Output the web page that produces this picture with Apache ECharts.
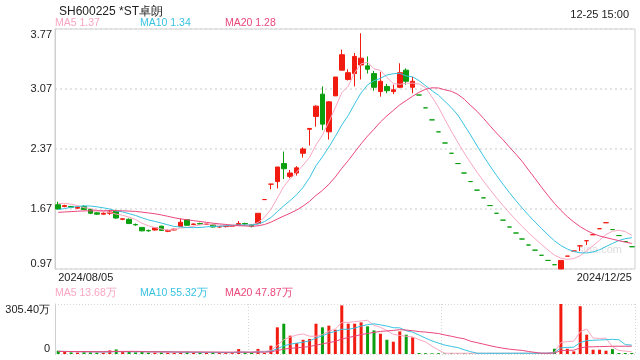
<!DOCTYPE html>
<html><head><meta charset="utf-8">
<script src="https://cdn.jsdelivr.net/npm/echarts@6/dist/echarts.min.js"></script>
<style>html,body{margin:0;padding:0;background:#fff}#c{width:640px;height:360px}</style>
</head><body><div id="c"></div>
<script>
const dates = [
'2024/08/05','2024/08/06','2024/08/07','2024/08/08','2024/08/09','2024/08/12','2024/08/13','2024/08/14','2024/08/15','2024/08/16',
'2024/08/19','2024/08/20','2024/08/21','2024/08/22','2024/08/23','2024/08/26','2024/08/27','2024/08/28','2024/08/29','2024/08/30',
'2024/09/02','2024/09/03','2024/09/04','2024/09/05','2024/09/06','2024/09/09','2024/09/10','2024/09/11','2024/09/12','2024/09/13',
'2024/09/18','2024/09/19','2024/09/20','2024/09/23','2024/09/24','2024/09/25','2024/09/26','2024/09/27','2024/09/30','2024/10/08',
'2024/10/09','2024/10/10','2024/10/11','2024/10/14','2024/10/15','2024/10/16','2024/10/17','2024/10/18','2024/10/21','2024/10/22',
'2024/10/23','2024/10/24','2024/10/25','2024/10/28','2024/10/29','2024/10/30','2024/11/08','2024/11/11','2024/11/12','2024/11/13',
'2024/11/14','2024/11/15','2024/11/18','2024/11/19','2024/11/20','2024/11/21','2024/11/22','2024/11/25','2024/11/26','2024/11/27',
'2024/11/28','2024/11/29','2024/12/02','2024/12/03','2024/12/04','2024/12/05','2024/12/06','2024/12/09','2024/12/10','2024/12/11',
'2024/12/12','2024/12/13','2024/12/16','2024/12/17','2024/12/18','2024/12/19','2024/12/20','2024/12/23','2024/12/24','2024/12/25'];

const opens = [
1.72,1.70,1.70,1.68,1.70,1.665,1.625,1.61,1.62,1.645,
1.55,1.55,1.49,1.455,1.42,1.425,1.47,1.41,1.425,1.465,
1.545,1.49,1.50,1.49,1.485,1.46,1.465,1.47,1.49,1.50,
1.485,1.50,1.78,1.96,1.99,2.20,2.05,2.09,2.32,2.60,
2.75,3.01,2.57,2.99,3.29,3.18,3.25,3.35,3.34,3.25,
3.04,3.10,3.04,3.09,3.29,3.09,3.00,2.85,2.71,2.57,
2.44,2.32,2.20,2.09,1.99,1.89,1.80,1.71,1.62,1.54,
1.46,1.39,1.32,1.25,1.19,1.13,1.07,1.02,0.97,1.12,
1.18,1.24,1.30,1.37,1.44,1.51,1.43,1.36,1.29,1.23];

const closes = [
1.67,1.71,1.69,1.69,1.665,1.62,1.61,1.62,1.635,1.565,
1.555,1.50,1.485,1.415,1.415,1.45,1.42,1.42,1.435,1.515,
1.48,1.495,1.495,1.495,1.46,1.465,1.475,1.475,1.50,1.495,
1.47,1.62,1.78,1.96,2.16,2.14,2.09,2.15,2.37,2.61,
2.87,2.66,2.92,3.21,3.47,3.26,3.45,3.43,3.30,3.09,
3.16,3.05,3.06,3.26,3.16,3.16,3.00,2.85,2.71,2.57,
2.44,2.32,2.20,2.09,1.99,1.89,1.80,1.71,1.62,1.54,
1.46,1.39,1.32,1.25,1.19,1.13,1.07,1.02,1.07,1.12,
1.18,1.24,1.30,1.37,1.44,1.51,1.43,1.36,1.29,1.23];

const lows = [
1.665,1.69,1.68,1.67,1.66,1.61,1.60,1.605,1.60,1.555,
1.54,1.495,1.475,1.41,1.405,1.42,1.415,1.40,1.42,1.46,
1.475,1.48,1.49,1.485,1.455,1.45,1.455,1.465,1.48,1.48,
1.455,1.49,1.78,1.90,1.91,2.02,2.03,2.06,2.27,2.41,
2.63,2.59,2.48,2.99,3.29,3.17,3.10,3.18,3.25,3.05,
2.98,3.02,3.01,3.08,3.12,3.02,3.00,2.85,2.71,2.57,
2.44,2.32,2.20,2.09,1.99,1.89,1.80,1.71,1.62,1.54,
1.46,1.39,1.32,1.25,1.19,1.13,1.07,1.02,0.97,1.12,
1.18,1.18,1.25,1.37,1.44,1.51,1.43,1.36,1.29,1.23];

const highs = [
1.755,1.72,1.705,1.70,1.715,1.67,1.63,1.63,1.66,1.66,
1.56,1.56,1.50,1.46,1.43,1.455,1.475,1.43,1.44,1.56,
1.55,1.50,1.51,1.50,1.49,1.47,1.48,1.48,1.53,1.51,
1.495,1.62,1.78,1.96,2.16,2.34,2.125,2.17,2.39,2.61,
2.88,3.10,2.93,3.21,3.53,3.30,3.49,3.72,3.45,3.28,
3.27,3.13,3.12,3.37,3.31,3.21,3.00,2.85,2.71,2.57,
2.44,2.32,2.20,2.09,1.99,1.89,1.80,1.71,1.62,1.54,
1.46,1.39,1.32,1.25,1.19,1.13,1.07,1.02,1.07,1.12,
1.18,1.24,1.30,1.37,1.44,1.51,1.43,1.36,1.29,1.23];

// volume in 万
const volumes = [
20,12,10,9,12,14,10,9,22,28,
12,14,10,12,9,10,12,9,8,13,
14,9,8,7,9,8,7,8,30,9,
8,31,6,51,163,185,112,67,87,92,
185,163,173,148,297,185,185,193,169,144,
124,87,75,138,118,102,6,5,4,5,
4,5,4,5,4,5,4,5,4,5,
5,5,5,5,5,5,5,32,305.4,32,
16,292,118,26,26,20,30,6,6,6];

// closes / volumes of the 19 sessions before the first visible one (warm-up for MA lines)
const preCloses = [1.62,1.61,1.60,1.59,1.60,1.61,1.60,1.59,1.58,1.60,1.57,1.56,1.58,1.60,1.64,1.70,1.74,1.77,1.79];
const preVolumes = [15,16,14,15,17,16,15,14,16,15,17,16,15,14,16,15,17,16,15];

const priceMin = 0.97, priceMax = 3.77, priceStep = 0.70;
const volumeMax = 305.4;
const maNames = ['MA5','MA10','MA20'];
const maPeriods = [5,10,20];
const maLegendValues = ['1.37','1.34','1.28'];
const volLegendValues = ['13.68万','55.32万','47.87万'];
const titleText = 'SH600225 *ST卓朗';
const timeText = '12-25 15:00';

const maColors = ['#f9a6c2','#38c3e2','#ea477b'];
const UP = '#f21b0f', DOWN = '#0b9f10';

function movingAvg(vals, pre, n) {
  const all = pre.concat(vals);
  const off = pre.length;
  return vals.map((_, i) => {
    let s = 0;
    for (let k = 0; k < n; k++) s += all[off + i - k];
    return +(s / n).toFixed(4);
  });
}

const candleData = opens.map((o, i) => [o, closes[i], lows[i], highs[i]]);
const isUp = closes.map((c, i) => c > opens[i] || (c === opens[i] && c >= (i > 0 ? closes[i-1] : preCloses[preCloses.length-1])));
const volData = volumes.map((v, i) => ({ value: v, itemStyle: { color: isUp[i] ? UP : DOWN } }));

const chart = echarts.init(document.getElementById('c'), null, { renderer: 'canvas' });

const series = [{
  type: 'candlestick', xAxisIndex: 0, yAxisIndex: 0, data: candleData, barWidth: 5,
  itemStyle: { color: UP, color0: DOWN, borderColor: UP, borderColor0: DOWN, borderWidth: 1 }
}];
maPeriods.forEach((n, k) => {
  series.push({ type: 'line', xAxisIndex: 0, yAxisIndex: 0, data: movingAvg(closes, preCloses, n),
    symbol: 'none', lineStyle: { width: 1, color: maColors[k] }, z: 3, silent: true });
});
series.push({ type: 'bar', xAxisIndex: 1, yAxisIndex: 1, data: volData, barWidth: 3 });
maPeriods.forEach((n, k) => {
  series.push({ type: 'line', xAxisIndex: 1, yAxisIndex: 1, data: movingAvg(volumes, preVolumes, n),
    symbol: 'none', lineStyle: { width: 1, color: maColors[k] }, z: 3, silent: true });
});

const legendX = [55, 140, 225];
const graphics = [];
maNames.forEach((nm, k) => {
  graphics.push({ type: 'text', left: legendX[k], top: 18, style: { text: nm + ' ' + maLegendValues[k], fill: maColors[k], font: '10.5px "Liberation Sans", Arial, sans-serif' } });
  graphics.push({ type: 'text', left: legendX[k], top: 288, style: { text: nm + ' ' + volLegendValues[k], fill: maColors[k], font: '10.5px "Liberation Sans", Arial, sans-serif' } });
});
graphics.push({ type: 'text', left: 578, top: 244, z: 0, style: { text: 'sina.com', fill: '#dcdcdc', font: '11px "Liberation Sans", Arial, sans-serif' } });

const font = '"Liberation Sans", Arial, sans-serif';
const option = {
  animation: false,
  backgroundColor: '#fff',
  title: [
    { text: titleText, left: 54, top: 1, textStyle: { fontSize: 12, fontWeight: 'normal', color: '#222', fontFamily: font } },
    { text: timeText, right: 6, top: 4, textStyle: { fontSize: 11, fontWeight: 'normal', color: '#222', fontFamily: font } }
  ],
  graphic: graphics,
  grid: [
    { left: 55, right: 5, top: 29, height: 240, show: true, borderColor: '#cfcfcf', borderWidth: 1 },
    { left: 55, right: 5, top: 304, height: 50 }
  ],
  xAxis: [
    { type: 'category', gridIndex: 0, data: dates, boundaryGap: true,
      axisLine: { show: false }, axisTick: { show: false }, splitLine: { show: false },
      axisLabel: { show: true, interval: (i) => i === 0 || i === dates.length - 1, margin: 3,
        fontSize: 11, color: '#222', fontFamily: font, alignMinLabel: 'left', alignMaxLabel: 'right' } },
    { type: 'category', gridIndex: 1, data: dates, boundaryGap: true,
      axisLine: { show: false }, axisTick: { show: false }, axisLabel: { show: false },
      splitLine: { show: true, interval: 29, lineStyle: { color: '#d6d6d6', type: [1, 2], width: 1 } } }
  ],
  yAxis: [
    { type: 'value', gridIndex: 0, min: priceMin, max: priceMax, interval: priceStep,
      axisLine: { show: true, lineStyle: { color: '#cfcfcf' } }, axisTick: { show: false },
      axisLabel: { fontSize: 11, color: '#222', fontFamily: font, margin: 3,
        formatter: (v) => v.toFixed(2), verticalAlignMinLabel: 'bottom', verticalAlignMaxLabel: 'top' },
      splitLine: { show: true, lineStyle: { color: '#dcdcdc', type: [2, 3], width: 1.5 } } },
    { type: 'value', gridIndex: 1, min: 0, max: volumeMax, interval: volumeMax,
      axisLine: { show: true, lineStyle: { color: '#cfcfcf' } }, axisTick: { show: false },
      axisLabel: { fontSize: 11, color: '#222', fontFamily: font, margin: 5,
        formatter: (v) => v === 0 ? '0' : v.toFixed(2) + '万', verticalAlignMinLabel: 'bottom', verticalAlignMaxLabel: 'top' },
      splitLine: { show: true, lineStyle: { color: '#d6d6d6', type: [1, 2], width: 1 } } }
  ],
  series: series
};
chart.setOption(option);
</script></body></html>
